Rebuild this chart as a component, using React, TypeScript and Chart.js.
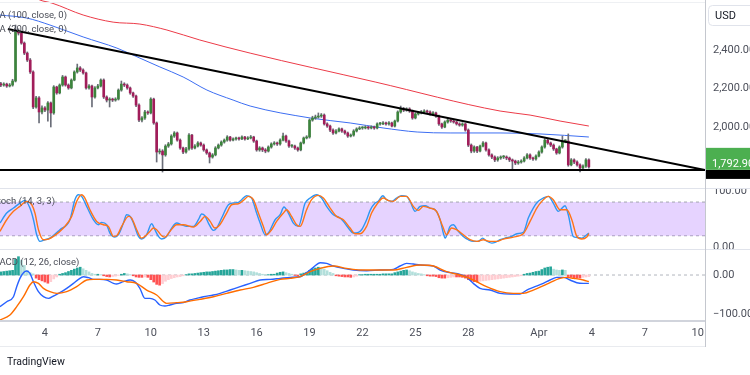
import React, { useEffect, useRef } from "react";
import { Chart, registerables } from "chart.js";

Chart.register(...registerables);

// ---------- price data (4h candles, index 0 = Mar 1 12:00) ----------
const FIRST_OPEN = 2225;
const closes = [
  2218, 2223, 2213, 2218, 2239, 2499, 2488, 2436, 2384, 2348,
  2286, 2104, 2151, 2078, 2099, 2088, 2125, 2073, 2208, 2177,
  2218, 2260, 2218, 2203, 2244, 2286, 2307, 2296, 2281, 2203,
  2213, 2156, 2203, 2213, 2244, 2156, 2140, 2145, 2140, 2145,
  2192, 2223, 2218, 2203, 2177, 2161, 2114, 2036, 2047, 2078,
  2073, 2145, 2021, 1870, 1875, 1855, 1901, 1912, 1953, 1969,
  1932, 1891, 1870, 1886, 1958, 1891, 1901, 1917, 1906, 1881,
  1865, 1844, 1855, 1891, 1906, 1922, 1932, 1948, 1932, 1938,
  1943, 1938, 1948, 1938, 1943, 1948, 1927, 1881, 1891, 1881,
  1875, 1896, 1912, 1917, 1912, 1932, 1953, 1927, 1901, 1901,
  1891, 1881, 1917, 1943, 1948, 2036, 2047, 2052, 2057, 2062,
  2016, 2005, 1984, 1969, 1979, 1990, 1979, 1969, 1953, 1958,
  1979, 1990, 1995, 1995, 2000, 1995, 2000, 1995, 2016, 2016,
  2021, 2016, 2021, 2005, 2031, 2078, 2094, 2088, 2094, 2083,
  2047, 2068, 2073, 2078, 2083, 2078, 2068, 2073, 2057, 2016,
  2000, 2026, 2036, 2031, 2026, 2016, 2010, 2016, 1984, 1906,
  1875, 1896, 1875, 1901, 1917, 1881, 1855, 1844, 1829, 1839,
  1844, 1844, 1839, 1829, 1823, 1813, 1818, 1823, 1839, 1855,
  1839, 1834, 1849, 1870, 1896, 1932, 1917, 1906, 1886, 1865,
  1896, 1927, 1927, 1803, 1829, 1818, 1803, 1787, 1797, 1829,
  1792.9,
];
const highs = [
  2232, 2230, 2228, 2226, 2248, 2530, 2510, 2494, 2442, 2390,
  2356, 2292, 2160, 2158, 2110, 2106, 2132, 2130, 2215, 2212,
  2224, 2268, 2265, 2224, 2250, 2292, 2327, 2314, 2302, 2286,
  2220, 2218, 2210, 2222, 2250, 2250, 2162, 2152, 2150, 2152,
  2198, 2239, 2230, 2224, 2208, 2182, 2166, 2120, 2054, 2086,
  2084, 2152, 2150, 2026, 1886, 1882, 1908, 1920, 1960, 1976,
  1974, 1938, 1896, 1894, 1966, 1962, 1908, 1924, 1922, 1912,
  1886, 1870, 1862, 1898, 1912, 1928, 1938, 1955, 1952, 1944,
  1948, 1948, 1954, 1952, 1950, 1956, 1952, 1932, 1898, 1896,
  1888, 1902, 1918, 1924, 1922, 1938, 1969, 1958, 1932, 1908,
  1906, 1896, 1922, 1948, 1955, 2042, 2056, 2062, 2073, 2070,
  2068, 2022, 2010, 1990, 1986, 1996, 1995, 1984, 1974, 1964,
  1986, 1996, 2002, 2002, 2006, 2004, 2006, 2005, 2022, 2024,
  2028, 2026, 2028, 2026, 2036, 2084, 2109, 2102, 2100, 2100,
  2088, 2074, 2080, 2086, 2090, 2088, 2084, 2080, 2078, 2062,
  2020, 2032, 2044, 2040, 2036, 2030, 2022, 2022, 2020, 1990,
  1912, 1902, 1900, 1906, 1924, 1922, 1886, 1860, 1850, 1846,
  1850, 1852, 1850, 1844, 1834, 1828, 1826, 1830, 1846, 1862,
  1860, 1844, 1856, 1876, 1902, 1940, 1938, 1922, 1912, 1890,
  1902, 1953, 1934, 1964, 1836, 1834, 1824, 1808, 1804, 1836,
  1834,
];
const lows = [
  2210, 2212, 2206, 2208, 2212, 2234, 2478, 2430, 2376, 2340,
  2278, 2095, 2098, 2021, 2068, 2080, 2030, 2000, 2066, 2170,
  2172, 2212, 2212, 2196, 2198, 2240, 2280, 2288, 2274, 2196,
  2196, 2104, 2150, 2198, 2208, 2148, 2130, 2104, 2132, 2134,
  2140, 2186, 2210, 2196, 2170, 2154, 2106, 2028, 2026, 2040,
  2066, 2068, 2014, 1818, 1860, 1766, 1848, 1894, 1906, 1946,
  1926, 1884, 1862, 1864, 1880, 1884, 1886, 1896, 1900, 1874,
  1858, 1813, 1838, 1850, 1886, 1900, 1916, 1926, 1926, 1928,
  1932, 1932, 1934, 1932, 1934, 1938, 1920, 1874, 1874, 1872,
  1866, 1870, 1890, 1906, 1904, 1906, 1928, 1920, 1894, 1894,
  1884, 1874, 1876, 1912, 1938, 1942, 2030, 2040, 2046, 2050,
  2010, 1998, 1976, 1962, 1964, 1974, 1972, 1962, 1946, 1948,
  1952, 1974, 1986, 1988, 1990, 1988, 1990, 1988, 1990, 2010,
  2012, 2010, 2010, 2000, 2000, 2026, 2072, 2080, 2082, 2076,
  2040, 2042, 2062, 2068, 2072, 2070, 2062, 2062, 2050, 2008,
  1992, 1996, 2020, 2024, 2020, 2010, 2004, 2004, 1978, 1898,
  1866, 1868, 1866, 1870, 1896, 1874, 1848, 1836, 1820, 1822,
  1832, 1836, 1830, 1820, 1777, 1804, 1806, 1812, 1818, 1834,
  1832, 1826, 1828, 1844, 1864, 1890, 1910, 1898, 1878, 1858,
  1860, 1890, 1918, 1796, 1798, 1810, 1796, 1766, 1780, 1790,
  1786,
];

// moving averages (candle index, price)
const ma100X = [-0.3, 8.9, 16.7, 28.0, 39.5, 47.3, 54.1, 62.0, 70.1, 79.0, 84.8, 105.2, 118.8, 130.0, 141.6, 152.8, 169.8, 183.4, 200];
const ma100Y = [2582, 2566, 2530, 2468, 2410, 2358, 2312, 2260, 2192, 2140, 2109, 2047, 2021, 1995, 1974, 1969, 1969, 1964, 1948];
const ma200X = [9.9, 13.3, 17.4, 28.0, 38.2, 47.3, 56.5, 67.7, 84.8, 127.3, 169.8, 180.0, 190.2, 200];
const ma200Y = [2690, 2660, 2644, 2582, 2545, 2535, 2504, 2452, 2384, 2234, 2083, 2062, 2031, 2005];

// drawn lines
const trendX = [2.4, 239.5];
const trendY = [2509, 1777];
const SUPPORT = 1777;
const LAST_PRICE = 1792.9;

// stochastic %K / %D
const kX = [-0.3, 2.0, 4.3, 6.5, 8.2, 9.9, 11.1, 12.2, 13.3, 15.0, 16.7, 20.1, 23.5, 25.2, 26.4, 27.5, 29.2, 31.5, 33.2, 34.3, 36.0, 37.1, 38.8, 40.0, 41.7, 42.8, 44.0, 45.1, 46.8, 47.9, 49.6, 51.3, 52.4, 53.6, 54.7, 56.4, 58.1, 59.8, 61.5, 63.2, 65.5, 67.2, 68.3, 69.4, 70.6, 72.3, 73.4, 75.1, 77.4, 79.1, 80.8, 81.9, 83.6, 85.3, 87.0, 88.2, 89.9, 91.0, 93.3, 95.0, 96.3, 97.8, 99.5, 101.2, 103.5, 105.2, 107.4, 109.1, 110.8, 113.1, 115.4, 116.5, 118.2, 119.9, 121.6, 122.7, 124.4, 125.6, 127.3, 128.4, 129.9, 131.2, 133.0, 134.6, 136.3, 138.0, 139.2, 140.9, 142.6, 144.3, 146.0, 147.7, 149.4, 150.5, 151.1, 152.8, 153.9, 155.6, 157.3, 159.0, 160.7, 162.4, 163.9, 165.0, 167.0, 168.1, 169.8, 171.5, 173.8, 175.5, 177.7, 179.4, 181.1, 182.8, 184.5, 186.2, 187.9, 189.6, 191.9, 193.0, 194.7, 195.9, 197.6, 199.3, 200];
const kY = [42.6, 60.4, 69.3, 78.2, 83.0, 69.3, 48.5, 21.8, 9.9, 12.9, 15.8, 30.7, 48.5, 84.2, 93.1, 90.1, 72.3, 48.5, 39.6, 43.8, 39.6, 24.8, 17.6, 21.8, 42.6, 57.4, 54.5, 42.6, 18.8, 14.1, 21.8, 41.4, 30.7, 18.8, 14.1, 18.8, 33.7, 42.6, 39.6, 36.6, 36.6, 48.5, 58.6, 55.6, 42.6, 29.5, 33.7, 51.5, 75.2, 78.2, 79.4, 84.2, 91.3, 87.1, 60.4, 42.6, 21.8, 24.8, 48.5, 57.4, 71.1, 60.4, 42.6, 36.6, 78.2, 87.1, 93.1, 87.1, 72.3, 57.4, 51.5, 45.5, 33.7, 24.8, 25.9, 30.7, 48.5, 65.2, 78.2, 81.2, 91.3, 84.2, 81.2, 87.1, 91.3, 90.1, 81.2, 63.4, 72.3, 73.5, 69.3, 66.3, 48.5, 24.8, 15.8, 36.6, 39.6, 27.7, 18.8, 12.9, 9.9, 9.9, 15.8, 11.1, 6.9, 8.1, 12.9, 15.8, 18.8, 23.6, 25.9, 51.5, 69.3, 81.2, 87.1, 90.1, 78.2, 63.4, 73.5, 57.4, 18.8, 17.0, 15.8, 21.8, 24.8];
const dX = [-0.3, 2.0, 4.3, 6.5, 8.8, 10.5, 11.6, 12.8, 14.5, 16.2, 17.9, 21.3, 24.1, 25.8, 27.5, 28.6, 30.3, 32.6, 34.9, 36.6, 38.3, 39.4, 41.1, 43.4, 44.5, 46.2, 47.9, 49.0, 50.7, 51.9, 53.0, 54.7, 55.8, 57.5, 59.8, 62.1, 65.5, 67.8, 69.5, 71.2, 72.8, 74.5, 76.8, 78.5, 80.8, 82.5, 84.2, 85.9, 87.6, 89.3, 90.4, 92.1, 93.8, 96.1, 97.2, 98.9, 100.6, 101.8, 104.0, 105.7, 108.0, 109.7, 112.0, 114.2, 116.5, 118.8, 120.5, 122.2, 124.4, 126.1, 127.8, 130.1, 131.8, 133.5, 135.8, 138.0, 140.3, 142.0, 143.7, 146.0, 148.2, 150.3, 151.6, 153.3, 155.0, 157.3, 159.6, 161.9, 164.1, 166.4, 168.7, 170.9, 174.3, 177.7, 180.0, 182.3, 184.0, 186.2, 187.9, 190.2, 192.5, 194.2, 195.9, 197.6, 199.3, 200];
const dY = [27.7, 48.5, 63.4, 72.3, 81.2, 75.2, 60.4, 30.7, 12.9, 14.1, 18.8, 33.7, 54.5, 81.2, 93.1, 87.1, 66.3, 45.5, 39.6, 36.6, 18.8, 20.0, 36.6, 54.5, 51.5, 30.7, 15.8, 18.8, 27.7, 33.7, 30.7, 20.0, 17.6, 27.7, 39.6, 39.6, 35.4, 45.5, 54.5, 45.5, 33.7, 39.6, 60.4, 75.2, 77.0, 83.0, 90.1, 84.2, 60.4, 36.6, 21.8, 30.7, 45.5, 60.4, 66.3, 54.5, 39.6, 36.6, 66.3, 84.2, 91.9, 87.1, 69.3, 54.5, 48.5, 33.7, 23.6, 23.6, 36.6, 60.4, 75.2, 87.1, 82.6, 81.2, 90.1, 90.1, 72.3, 65.2, 72.3, 69.3, 63.4, 36.6, 21.8, 33.7, 30.7, 21.8, 12.9, 9.9, 12.9, 9.9, 9.9, 14.1, 17.6, 23.6, 45.5, 69.3, 81.2, 90.1, 84.2, 66.3, 66.3, 48.5, 18.8, 14.1, 17.6, 23.6];
const STOCH_UPPER = 80;
const STOCH_LOWER = 20;

// MACD line, signal line, histogram (one bar per candle)
const macdX = [-0.3, 2.0, 4.3, 5.4, 6.5, 7.7, 8.8, 9.9, 11.1, 12.8, 14.5, 16.2, 17.9, 20.1, 22.4, 24.7, 26.4, 28.1, 29.8, 31.5, 33.7, 36.0, 38.3, 39.4, 41.7, 44.0, 45.6, 47.3, 49.0, 50.7, 52.4, 54.1, 55.8, 57.5, 59.8, 62.1, 64.3, 66.6, 68.9, 72.3, 74.6, 78.0, 81.4, 84.8, 88.2, 91.6, 95.0, 98.4, 101.8, 104.0, 106.3, 108.6, 110.8, 113.1, 116.5, 119.9, 124.4, 129.0, 133.5, 135.8, 138.0, 140.3, 142.6, 147.1, 149.4, 152.8, 156.2, 158.5, 160.7, 163.0, 166.4, 169.8, 173.2, 176.6, 178.9, 181.1, 184.5, 186.8, 189.1, 191.3, 193.6, 195.9, 198.1, 200];
const macdY = [-81.2, -68.4, -55.6, -29.9, -8.5, 6.0, 10.3, 4.3, -17.1, -42.7, -55.6, -59.8, -53.8, -45.3, -34.2, -21.4, -11.1, -4.3, -6.8, -11.1, -11.1, -12.8, -21.4, -23.1, -17.1, -12.8, -17.1, -34.2, -59.8, -59.8, -64.1, -76.9, -79.5, -76.9, -72.6, -70.9, -64.1, -59.8, -55.6, -51.3, -47.0, -38.5, -29.9, -21.4, -12.8, -11.1, -8.5, -6.0, -4.3, 6.0, 19.7, 31.6, 29.9, 23.1, 17.1, 12.8, 11.1, 12.8, 14.5, 23.1, 29.9, 28.2, 25.6, 23.1, 12.8, 6.0, 1.7, -6.0, -21.4, -34.2, -38.5, -47.0, -48.7, -48.7, -38.5, -31.6, -21.4, -12.8, -6.0, -6.0, -12.8, -19.7, -21.4, -21.4];
const signalX = [-0.3, 3.1, 5.4, 7.7, 9.9, 11.1, 12.8, 14.5, 16.7, 19.0, 22.4, 25.8, 29.2, 31.5, 36.0, 39.4, 42.8, 46.2, 49.6, 53.0, 56.4, 59.8, 63.2, 67.7, 72.3, 76.8, 81.4, 85.9, 90.4, 95.0, 98.4, 101.8, 105.2, 108.6, 113.1, 117.6, 122.2, 129.0, 133.5, 138.0, 142.6, 147.1, 151.6, 156.2, 160.7, 165.2, 169.8, 174.3, 177.7, 181.1, 185.7, 190.2, 192.5, 194.8, 198.1, 200];
const signalY = [-115.4, -102.6, -81.2, -55.6, -25.6, -17.1, -21.4, -34.2, -42.7, -47.0, -42.7, -29.9, -12.8, -11.1, -11.1, -12.8, -17.1, -21.4, -38.5, -51.3, -72.6, -70.9, -68.4, -62.4, -55.6, -47.0, -38.5, -31.6, -21.4, -11.1, -8.5, -4.3, 8.5, 17.1, 23.1, 17.1, 12.8, 12.8, 12.8, 19.7, 25.6, 23.1, 8.5, 0, -12.8, -29.9, -42.7, -47.0, -47.0, -38.5, -23.1, -8.5, -6.0, -8.5, -12.8, -17.1];
const histogram = [
  8, 9, 10, 11, 12, 40, 47, 38, 25, 12,
  6, 3, -8, -12, -15, -18, -21, -17, -10, -5,
  2, 4, 6, 9, 12, 15, 18, 20, 16, 12,
  8, 4, 2, 2, 1, -2, -4, -5, -4, -3,
  -1, 2, 4, 3, 1, -2, -5, -6, -6, -5,
  -6, -12, -18, -24, -26, -22, -16, -12, -9, -7,
  -5, -4, -2, 1, 3, 3, 4, 5, 6, 7,
  8, 8, 9, 10, 11, 12, 13, 13, 14, 14,
  13, 12, 12, 11, 10, 9, 8, 6, 4, 2,
  1, 1, 2, 2, 5, 7, 8, 6, 4, 2,
  -1, -2, 3, 5, 7, 12, 16, 18, 20, 19,
  15, 11, 7, 4, -2, -3, -4, -5, -5, -6,
  -5, -3, 1, 1, 2, 2, 2, 2, 2, 2,
  3, 3, 3, 3, 6, 8, 10, 12, 13, 11,
  8, 6, 4, 3, 1, -2, -3, -3, -4, -7,
  -8, -8, -7, -6, -5, -5, -5, -6, -8, -12,
  -15, -17, -18, -16, -15, -14, -13, -12, -11, -10,
  -9, -8, -7, -6, -5, -4, -3, -2, 2, 4,
  5, 7, 9, 10, 14, 18, 20, 21, 15, 13,
  12, 13, 12, -4, -5, -7, -8, -8, -6, -5,
  -4,
];

// axis ticks
const dateTickIdx = [15, 33, 51, 69, 87, 105, 123, 141, 159, 183, 201, 219, 237];
const dateTickLabels = ["4", "7", "10", "13", "16", "19", "22", "25", "28", "Apr", "4", "7", "10"];
const priceTicks = [2000, 2200, 2400];
const stochTicks = [0, 100];
const macdTicks = [-100, 0];

// ---------- layout / style ----------
const FONT = "Roboto, 'Noto Sans', sans-serif";
const X_MIN = -0.28;
const X_MAX = 239.5;
const AXIS_W = 45;
const TEXT = "#4c4f5a";
const GREEN = "#3c843c";
const RED = "#a11d5a";
const WICK = "#6a6d78";

const pts = (xs: number[], ys: number[]) => xs.map((x, j) => ({ x, y: ys[j] }));

const fmt = (v: number) =>
  (v < 0 ? "\u2212" : "") +
  Math.abs(v).toLocaleString("en-US", { minimumFractionDigits: 2, maximumFractionDigits: 2 });

const hiddenX = () => ({ type: "linear", min: X_MIN, max: X_MAX, display: false, offset: false });

const rightAxis = (min: number, max: number, ticks: number[]) => ({
  position: "right",
  min,
  max,
  grid: { display: false, drawTicks: false },
  border: { display: false },
  ticks: {
    color: TEXT,
    font: { family: FONT, size: 11 },
    padding: 8,
    autoSkip: false,
    callback: (v: any) => fmt(Number(v)),
  },
  afterBuildTicks: (s: any) => {
    s.ticks = ticks.map((v) => ({ value: v }));
  },
  afterFit: (s: any) => {
    s.width = AXIS_W;
    s.paddingTop = 0;
    s.paddingBottom = 0;
  },
});

const baseOpts = {
  responsive: false,
  animation: false,
  devicePixelRatio: 1,
  layout: { padding: 0 },
  plugins: { legend: { display: false }, tooltip: { enabled: false } },
  events: [],
};

const priceLabelPlugin = {
  id: "priceLabels",
  afterDraw(chart: any) {
    const { ctx, chartArea } = chart;
    const y = chart.scales.y;
    const left = chartArea.right;
    const w = 750 - left;
    ctx.save();
    // support line label (black)
    const ys = y.getPixelForValue(SUPPORT);
    ctx.fillStyle = "#000000";
    ctx.fillRect(left, ys, w, 9);
    // last price label (green)
    const yp = y.getPixelForValue(LAST_PRICE);
    ctx.fillStyle = "#4caf50";
    ctx.fillRect(left, yp - 19, w, 22);
    ctx.fillStyle = "#ffffff";
    ctx.font = `11px ${FONT}`;
    ctx.textBaseline = "middle";
    ctx.textAlign = "left";
    ctx.fillText(LAST_PRICE.toLocaleString("en-US", { minimumFractionDigits: 2 }), left + 7, yp - 3);
    // currency box
    ctx.fillStyle = "#ffffff";
    ctx.strokeStyle = "#e0e3eb";
    ctx.lineWidth = 1;
    ctx.beginPath();
    ctx.roundRect(left + 3.5, 5.5, 60, 20, 4);
    ctx.fill();
    ctx.stroke();
    ctx.fillStyle = "#131722";
    ctx.font = `11px ${FONT}`;
    ctx.fillText("USD", left + 10, 16);
    ctx.restore();
  },
};

export default function App() {
  const mainRef = useRef<HTMLCanvasElement>(null);
  const stochRef = useRef<HTMLCanvasElement>(null);
  const macdRef = useRef<HTMLCanvasElement>(null);

  useEffect(() => {
    const opens = closes.map((c, i) => (i === 0 ? FIRST_OPEN : closes[i - 1]));
    const candleColors = closes.map((c, i) => (c >= opens[i] ? GREEN : RED));
    const histColors = histogram.map((v, i) => {
      const prev = i === 0 ? 0 : histogram[i - 1];
      if (v >= 0) return v >= prev ? "#26a69a" : "#b2dfdb";
      return v <= prev ? "#ff5252" : "#ffcdd2";
    });

    const main = new Chart(mainRef.current as HTMLCanvasElement, {
      type: "bar",
      data: {
        datasets: [
          {
            type: "line",
            data: pts(ma200X, ma200Y),
            borderColor: "#ec3b48",
            borderWidth: 1,
            pointRadius: 0,
            cubicInterpolationMode: "monotone",
            order: 6,
          },
          {
            type: "line",
            data: pts(ma100X, ma100Y),
            borderColor: "#3d6ef2",
            borderWidth: 1,
            pointRadius: 0,
            cubicInterpolationMode: "monotone",
            order: 5,
          },
          {
            type: "bar",
            data: closes.map((c, i) => ({ x: i, y: [lows[i], highs[i]] })),
            backgroundColor: WICK,
            barThickness: 1,
            grouped: false,
            borderWidth: 0,
            order: 4,
          },
          {
            type: "bar",
            data: closes.map((c, i) => ({ x: i, y: [opens[i], c] })),
            backgroundColor: candleColors,
            barThickness: 2,
            minBarLength: 1,
            grouped: false,
            borderWidth: 0,
            order: 3,
          },
          {
            type: "line",
            data: [
              { x: X_MIN, y: SUPPORT },
              { x: X_MAX, y: SUPPORT },
            ],
            borderColor: "#000000",
            borderWidth: 2,
            pointRadius: 0,
            order: 2,
          },
          {
            type: "line",
            data: pts(trendX, trendY),
            borderColor: "#000000",
            borderWidth: 2,
            pointRadius: 0,
            order: 1,
          },
        ],
      },
      options: {
        ...baseOpts,
        scales: {
          x: hiddenX(),
          y: rightAxis(1683, 2660, priceTicks),
        },
      } as any,
      plugins: [priceLabelPlugin],
    } as any);

    const stoch = new Chart(stochRef.current as HTMLCanvasElement, {
      type: "line",
      data: {
        datasets: [
          {
            data: [
              { x: X_MIN, y: STOCH_UPPER },
              { x: X_MAX, y: STOCH_UPPER },
            ],
            borderColor: "#a3a6af",
            borderWidth: 1,
            borderDash: [3, 3],
            pointRadius: 0,
            fill: "+1",
            backgroundColor: "rgba(190,140,255,0.38)",
            order: 10,
          },
          {
            data: [
              { x: X_MIN, y: STOCH_LOWER },
              { x: X_MAX, y: STOCH_LOWER },
            ],
            borderColor: "#a3a6af",
            borderWidth: 1,
            borderDash: [3, 3],
            pointRadius: 0,
            fill: false,
            order: 10,
          },
          {
            data: pts(kX, kY),
            borderColor: "#2f96f3",
            borderWidth: 1.4,
            pointRadius: 0,
            cubicInterpolationMode: "monotone",
            order: 2,
          },
          {
            data: pts(dX, dY),
            borderColor: "#ff7417",
            borderWidth: 1.4,
            pointRadius: 0,
            cubicInterpolationMode: "monotone",
            order: 1,
          },
        ],
      },
      options: {
        ...baseOpts,
        scales: {
          x: hiddenX(),
          y: rightAxis(-3.6, 105, stochTicks),
        },
      } as any,
    } as any);

    const macd = new Chart(macdRef.current as HTMLCanvasElement, {
      type: "bar",
      data: {
        datasets: [
          {
            type: "line",
            data: [
              { x: X_MIN, y: 0 },
              { x: X_MAX, y: 0 },
            ],
            borderColor: "#b2b5be",
            borderWidth: 1,
            borderDash: [3, 3],
            pointRadius: 0,
            order: 10,
          },
          {
            type: "bar",
            data: histogram.map((v, i) => ({ x: i, y: v })),
            backgroundColor: histColors,
            barThickness: 2,
            grouped: false,
            borderWidth: 0,
            order: 5,
          },
          {
            type: "line",
            data: pts(macdX, macdY),
            borderColor: "#2962ff",
            borderWidth: 1.4,
            pointRadius: 0,
            cubicInterpolationMode: "monotone",
            order: 2,
          },
          {
            type: "line",
            data: pts(signalX, signalY),
            borderColor: "#ff6d00",
            borderWidth: 1.4,
            pointRadius: 0,
            cubicInterpolationMode: "monotone",
            order: 1,
          },
        ],
      },
      options: {
        ...baseOpts,
        scales: {
          x: {
            type: "linear",
            min: X_MIN,
            max: X_MAX,
            offset: false,
            position: "bottom",
            grid: { display: false, drawTicks: false },
            border: { display: false },
            ticks: {
              color: TEXT,
              font: { family: FONT, size: 11 },
              padding: 6,
              maxRotation: 0,
              autoSkip: false,
              callback: (v: any) => {
                const k = dateTickIdx.indexOf(Number(v));
                return k >= 0 ? dateTickLabels[k] : "";
              },
            },
            afterBuildTicks: (s: any) => {
              s.ticks = dateTickIdx.map((v) => ({ value: v }));
            },
            afterFit: (s: any) => {
              s.height = 25;
              s.paddingLeft = 0;
              s.paddingRight = 0;
            },
          },
          y: rightAxis(-117.9, 66.7, macdTicks),
        },
      } as any,
    } as any);

    return () => {
      main.destroy();
      stoch.destroy();
      macd.destroy();
    };
  }, []);

  const line = (style: any) => <div style={{ position: "absolute", ...style }} />;
  const label = (text: string, left: number, top: number) => (
    <div
      style={{
        position: "absolute",
        left,
        top,
        fontSize: 9.5,
        lineHeight: "12px",
        color: "#4a4d57",
        whiteSpace: "nowrap",
        fontFamily: FONT,
      }}
    >
      {text}
    </div>
  );

  return (
    <div
      style={{
        position: "fixed",
        left: 0,
        top: 0,
        width: 750,
        height: 375,
        background: "#ffffff",
        overflow: "hidden",
        fontFamily: FONT,
      }}
    >
      <canvas ref={mainRef} width={750} height={188} style={{ position: "absolute", left: 0, top: 0 }} />
      <canvas ref={stochRef} width={750} height={61} style={{ position: "absolute", left: 0, top: 188 }} />
      <canvas ref={macdRef} width={750} height={97} style={{ position: "absolute", left: 0, top: 249 }} />

      {line({ left: 0, top: 2, width: 705, height: 1, background: "#eef0f3" })}
      {line({ left: 0, top: 188, width: 750, height: 1, background: "#e0e3eb" })}
      {line({ left: 0, top: 249, width: 750, height: 1, background: "#e0e3eb" })}
      {line({ left: 0, top: 320, width: 705, height: 2, background: "#d1d4dc" })}
      {line({ left: 0, top: 346, width: 705, height: 1, background: "#e9ebef" })}
      {line({ left: 705, top: 0, width: 1, height: 347, background: "#c4c7ce" })}

      {label("MA (100, close, 0)", -9, 9)}
      {label("MA (200, close, 0)", -9, 23)}
      {label("Stoch (14, 3, 3)", -8, 195)}
      {label("MACD (12, 26, close)", -9, 256)}

      <div
        style={{
          position: "absolute",
          left: 7,
          top: 355,
          fontSize: 10.5,
          lineHeight: "14px",
          color: "#131722",
          fontFamily: FONT,
          whiteSpace: "nowrap",
        }}
      >
        TradingView
      </div>
    </div>
  );
}
